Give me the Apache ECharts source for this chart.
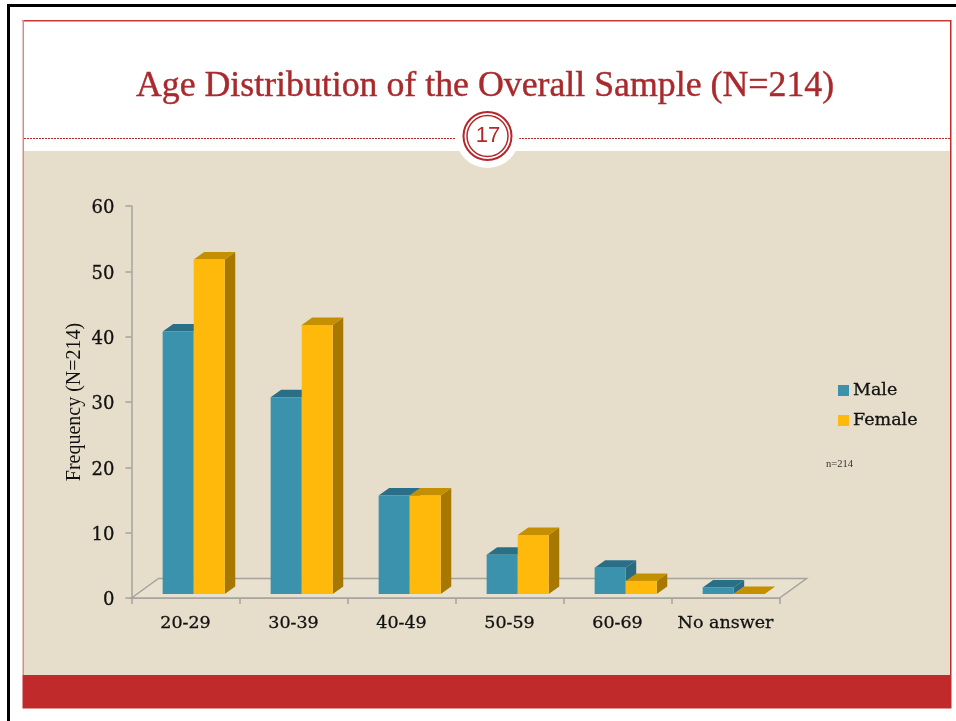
<!DOCTYPE html>
<html>
<head>
<meta charset="utf-8">
<title>Age Distribution of the Overall Sample</title>
<script src="https://cdn.jsdelivr.net/npm/echarts@6/dist/echarts.min.js"></script>
<style>
  html, body { margin: 0; padding: 0; background: #fff; }
  #chart { width: 956px; height: 721px; }
</style>
</head>
<body>
<div id="chart"></div>
<script>
const categories = ['20-29', '30-39', '40-49', '50-59', '60-69', 'No answer'];
const maleValues = [40, 30, 15, 6, 4, 1];
const femaleValues = [51, 41, 15, 9, 2, 0];
const yTicks = [0, 60, 10]; // min, max, interval

const titleText = 'Age Distribution of the Overall Sample (N=214)';
const yAxisTitle = 'Frequency (N=214)';
const pageNumber = '17';
const noteText = 'n=214';

const serif = '"DejaVu Serif", serif';
const axisGrey = '#a5a39e';
const inkColor = '#111';
const DEPTH_X = 10.5;
const DEPTH_Y = -7.5;

// 3d bar: front face, side and top
function barRenderer(sign, front, side, top) {
  return function (params, api) {
    const topPt = api.coord([api.value(0), api.value(1)]);
    const basePt = api.coord([api.value(0), 0]);
    const w = api.size([1, 0])[0] * 0.2875;
    const x0 = sign < 0 ? topPt[0] - w : topPt[0];
    const x1 = x0 + w;
    const yT = topPt[1];
    const yB = basePt[1];
    const children = [
      {
        type: 'polygon',
        shape: {points: [[x1, yT], [x1 + DEPTH_X, yT + DEPTH_Y], [x1 + DEPTH_X, yB + DEPTH_Y], [x1, yB]]},
        style: {fill: side}
      },
      {
        type: 'polygon',
        shape: {points: [[x0, yT], [x0 + DEPTH_X, yT + DEPTH_Y], [x1 + DEPTH_X, yT + DEPTH_Y], [x1, yT]]},
        style: {fill: top}
      }
    ];
    if (yB - yT > 0) {
      children.push({
        type: 'rect',
        shape: {x: x0, y: yT, width: w, height: yB - yT},
        style: {fill: front}
      });
    }
    return {type: 'group', children: children};
  };
}

// floor of the 3d box, taken from the plot area of the axes
function floorRenderer(params) {
  const c = params.coordSys;
  const dx = 27;
  const dy = -19.5;
  const b = c.y + c.height;
  const r = c.x + c.width;
  return {
    type: 'polygon',
    shape: {points: [[c.x, b], [c.x + dx, b + dy], [r + dx, b + dy], [r, b]]},
    style: {fill: '#e8e1cf', stroke: axisGrey, lineWidth: 1.5}
  };
}

const chart = echarts.init(document.getElementById('chart'));

const option = {
  animation: false,
  title: {
    text: titleText,
    left: 480,
    top: 64,
    textAlign: 'center',
    textStyle: {
      fontFamily: '"Liberation Serif", serif',
      fontSize: 35.8,
      fontWeight: 'normal',
      color: '#a92a2d',
      textBorderColor: '#a92a2d',
      textBorderWidth: 0.4
    }
  },
  legend: {
    orient: 'vertical',
    left: 833,
    top: 375,
    itemWidth: 11,
    itemHeight: 11,
    itemGap: 9,
    icon: 'rect',
    data: ['Male', 'Female'],
    textStyle: {
      fontFamily: serif,
      fontSize: 17.5,
      color: inkColor,
      padding: [0, 0, 0, -1],
      lineHeight: 21,
      textBorderColor: inkColor,
      textBorderWidth: 0.3
    }
  },
  grid: [
    {left: 131.5, top: 206, width: 648, height: 392},
    // front plane of the bars sits a little off the drawn axes
    {left: 139.7, top: 200.4, width: 648, height: 393.6, show: false}
  ],
  xAxis: [
    {
      type: 'category',
      gridIndex: 0,
      data: categories,
      axisLine: {show: true, lineStyle: {color: axisGrey, width: 1.5}},
      axisTick: {show: true, length: 6, lineStyle: {color: axisGrey, width: 1.5}},
      axisLabel: {
        interval: 0,
        margin: 16,
        fontFamily: serif,
        fontSize: 17.5,
        color: inkColor,
        textBorderColor: inkColor,
        textBorderWidth: 0.3
      }
    },
    {type: 'category', gridIndex: 1, data: categories, show: false}
  ],
  yAxis: [
    {
      type: 'value',
      gridIndex: 0,
      min: yTicks[0],
      max: yTicks[1],
      interval: yTicks[2],
      name: yAxisTitle,
      nameLocation: 'middle',
      nameGap: 47,
      nameRotate: 90,
      nameMoveOverlap: false,
      nameTextStyle: {fontFamily: '"Liberation Serif", serif', fontSize: 20, color: inkColor},
      axisLine: {show: true, lineStyle: {color: axisGrey, width: 1.5}},
      axisTick: {show: true, length: 6, lineStyle: {color: axisGrey, width: 1.5}},
      axisLabel: {
        margin: 17,
        formatter: '{num|{value}}',
        rich: {
          num: {
            padding: [5, 0, 0, 0],
            fontFamily: serif,
            fontSize: 18,
            color: inkColor,
            textBorderColor: inkColor,
            textBorderWidth: 0.3
          }
        }
      },
      splitLine: {show: false}
    },
    {type: 'value', gridIndex: 1, min: yTicks[0], max: yTicks[1], interval: yTicks[2], show: false}
  ],
  series: [
    {
      type: 'custom',
      name: 'floor',
      xAxisIndex: 0,
      yAxisIndex: 0,
      silent: true,
      z: 1,
      renderItem: floorRenderer,
      data: [[0, 0]]
    },
    {
      type: 'custom',
      name: 'Male',
      xAxisIndex: 1,
      yAxisIndex: 1,
      itemStyle: {color: '#3a92ad'},
      renderItem: barRenderer(-1, '#3a92ad', '#2a6b82', '#2a6f88'),
      encode: {x: 0, y: 1},
      data: maleValues.map((v, i) => [i, v])
    },
    {
      type: 'custom',
      name: 'Female',
      xAxisIndex: 1,
      yAxisIndex: 1,
      itemStyle: {color: '#ffb90b'},
      renderItem: barRenderer(1, '#ffb90b', '#a67800', '#c48f00'),
      encode: {x: 0, y: 1},
      data: femaleValues.map((v, i) => [i, v])
    }
  ],
  // slide frame around the chart
  graphic: [
    {type: 'rect', z: -10, shape: {x: 7, y: 4, width: 949, height: 3}, style: {fill: '#000'}},
    {type: 'rect', z: -10, shape: {x: 7, y: 4, width: 3, height: 717}, style: {fill: '#000'}},
    {type: 'rect', z: -10, shape: {x: 24, y: 151, width: 926, height: 524}, style: {fill: '#e6decb'}},
    {type: 'rect', z: -9, shape: {x: 22.5, y: 20, width: 928, height: 1.5}, style: {fill: '#c9363a'}},
    {type: 'rect', z: -9, shape: {x: 22.5, y: 20, width: 1.5, height: 655}, style: {fill: '#d98a8a'}},
    {type: 'rect', z: -9, shape: {x: 950, y: 20, width: 1.5, height: 655}, style: {fill: '#c12a2b'}},
    {type: 'rect', z: -9, shape: {x: 22.5, y: 675, width: 929, height: 33.5}, style: {fill: '#c12a2b'}},
    {type: 'line', z: -9, shape: {x1: 24, y1: 138.5, x2: 950, y2: 138.5}, style: {stroke: '#b5272b', lineWidth: 1, lineDash: [2, 1]}},
    {type: 'circle', z: -8, shape: {cx: 487.5, cy: 136, r: 32}, style: {fill: '#fff'}},
    {type: 'circle', z: -7, shape: {cx: 487.5, cy: 136, r: 24}, style: {fill: 'none', stroke: '#b5272b', lineWidth: 2}},
    {type: 'circle', z: -7, shape: {cx: 487.5, cy: 136, r: 20.5}, style: {fill: 'none', stroke: '#b5272b', lineWidth: 1.5}},
    {
      type: 'text',
      z: -6,
      x: 488,
      y: 136,
      style: {
        text: pageNumber,
        fill: '#b5272b',
        font: '22px "Liberation Sans", sans-serif',
        textAlign: 'center',
        textVerticalAlign: 'middle'
      }
    },
    {
      type: 'text',
      z: -6,
      x: 826,
      y: 464,
      style: {
        text: noteText,
        fill: '#333',
        font: '10.5px "Liberation Serif", serif',
        textAlign: 'left',
        textVerticalAlign: 'middle'
      }
    }
  ]
};

chart.setOption(option);
window.addEventListener('resize', function () {
  chart.resize();
});
</script>
</body>
</html>
